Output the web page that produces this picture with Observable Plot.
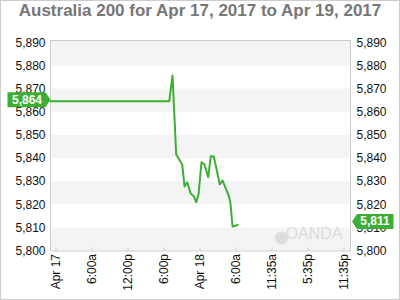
<!DOCTYPE html>
<html>
<head>
<meta charset="utf-8">
<script src="https://cdn.jsdelivr.net/npm/d3@7"></script>
<script src="https://cdn.jsdelivr.net/npm/@observablehq/plot@0.6"></script>
<style>
  html, body { margin: 0; padding: 0; background: #fff; }
  #wrap { position: relative; width: 400px; height: 300px; overflow: hidden; font-family: "Liberation Sans", Arial, sans-serif; }
  #title { position: absolute; top: 1px; left: 0; width: 400px; text-align: center; font-weight: bold; font-size: 17px; color: #777; }
  #border { position: absolute; left: 0; top: 0; width: 400px; height: 300px; box-sizing: border-box; border: 1px solid #ccc; pointer-events: none; }
  #chart { position: absolute; left: 0; top: 0; }
</style>
</head>
<body>
<div id="wrap">
  <div id="chart"></div>
  <div id="title">Australia 200 for Apr 17, 2017 to Apr 19, 2017</div>
  <div id="border"></div>
</div>
<script>
// Hours since Apr 17, 2017 00:00
const hours  = [-0.9, 18.87, 19.42, 20.03, 21.03, 21.42, 21.87, 22.42, 22.97, 23.37, 23.75, 24.25, 24.75, 25.37, 25.8, 26.3, 26.83, 27.3, 27.75, 28.83, 29.08, 29.42, 30.3];
const prices = [5864.76, 5864.76, 5875.9, 5841.7, 5837.4, 5827.9, 5829.7, 5825.0, 5823.6, 5821.1, 5824.4, 5838.4, 5837.4, 5831.9, 5841.0, 5840.9, 5834.4, 5828.8, 5830.5, 5823.6, 5820.5, 5810.6, 5811.2];

const xDomain = [-0.92, 49.08];
const yDomain = [5800, 5891];
const xTickValues = [0, 6, 12, 18, 24, 30, 36, 42, 48];
const xTickLabels = ["Apr 17", "6:00a", "12:00p", "6:00p", "Apr 18", "6:00a", "11:35a", "5:35p", "11:35p"];
const yTickValues = [5800, 5810, 5820, 5830, 5840, 5850, 5860, 5870, 5880, 5890];
const bandLows  = [5800, 5820, 5840, 5860, 5880];
const bandHighs = [5810, 5830, 5850, 5870, 5891];
const tagLabels = ["5,864", "5,811"];

const green = "#3dae34";
const data = hours.map((h, i) => ({h, p: prices[i]}));
const bands = bandLows.map((lo, i) => ({lo, hi: bandHighs[i], x1: xDomain[0], x2: xDomain[1]}));
const fmt = d3.format(",");

const tagLeftSymbol = {draw(ctx) {
  ctx.moveTo(0, 0); ctx.lineTo(-5, -7.5); ctx.lineTo(-43, -7.5); ctx.lineTo(-43, 7.5); ctx.lineTo(-5, 7.5); ctx.closePath();
}};
const tagRightSymbol = {draw(ctx) {
  ctx.moveTo(1.5, 0); ctx.lineTo(6.5, -7.5); ctx.lineTo(43, -7.5); ctx.lineTo(43, 7.5); ctx.lineTo(6.5, 7.5); ctx.closePath();
}};

const leftTag  = [{x: xDomain[0], y: prices[0], label: tagLabels[0]}];
const rightTag = [{x: xDomain[1], y: prices[prices.length - 1], label: tagLabels[1]}];
const tickMarks = xTickValues.map(v => ({v}));

const plot = Plot.plot({
  width: 400,
  height: 300,
  marginLeft: 50,
  marginRight: 50,
  marginTop: 40,
  marginBottom: 49.5,
  style: {fontFamily: "'Liberation Sans', Arial, sans-serif", fontSize: "12px", color: "#111", background: "transparent"},
  x: {type: "linear", domain: xDomain},
  y: {domain: yDomain},
  marks: [
    Plot.rect(bands, {x1: "x1", x2: "x2", y1: "lo", y2: "hi", fill: "#f4f4f4"}),
    Plot.frame({stroke: "#cccccc"}),
    Plot.ruleX(tickMarks, {x: "v", y1: yDomain[0], y2: yDomain[0] + 1.3, stroke: "#cccccc"}),
    Plot.axisX({ticks: xTickValues, tickFormat: (d) => xTickLabels[xTickValues.indexOf(d)], tickRotate: -90, tickSize: 0, tickPadding: 3, label: null, fontSize: 12}),
    Plot.axisY({anchor: "left", ticks: yTickValues, tickFormat: fmt, tickSize: 0, tickPadding: 5, label: null, fontSize: 12}),
    Plot.axisY({anchor: "right", ticks: yTickValues, tickFormat: fmt, tickSize: 0, tickPadding: 6, label: null, fontSize: 12}),
    // watermark
    Plot.dot([0], {frameAnchor: "bottom-right", dx: -69, dy: -13, r: 6.5, fill: "#dddddd"}),
    Plot.text(["OANDA"], {frameAnchor: "bottom-right", dx: -8, dy: -12, text: d => d, textAnchor: "end", fill: "#dddddd", fontSize: 16}),
    Plot.line(data, {x: "h", y: "p", stroke: green, strokeWidth: 2}),
    Plot.dot(leftTag, {x: "x", y: "y", dy: -1.4, symbol: tagLeftSymbol, fill: green, stroke: "none", r: 1}),
    Plot.text(leftTag, {x: "x", y: "y", dx: -23.5, dy: -1.4, text: "label", fill: "white", fontWeight: "bold", fontSize: 12}),
    Plot.dot(rightTag, {x: "x", y: "y", dy: -3.6, symbol: tagRightSymbol, fill: green, stroke: "none", r: 1}),
    Plot.text(rightTag, {x: "x", y: "y", dx: 24.5, dy: -3.6, text: "label", fill: "white", fontWeight: "bold", fontSize: 12})
  ]
});
document.getElementById("chart").appendChild(plot);
</script>
</body>
</html>
